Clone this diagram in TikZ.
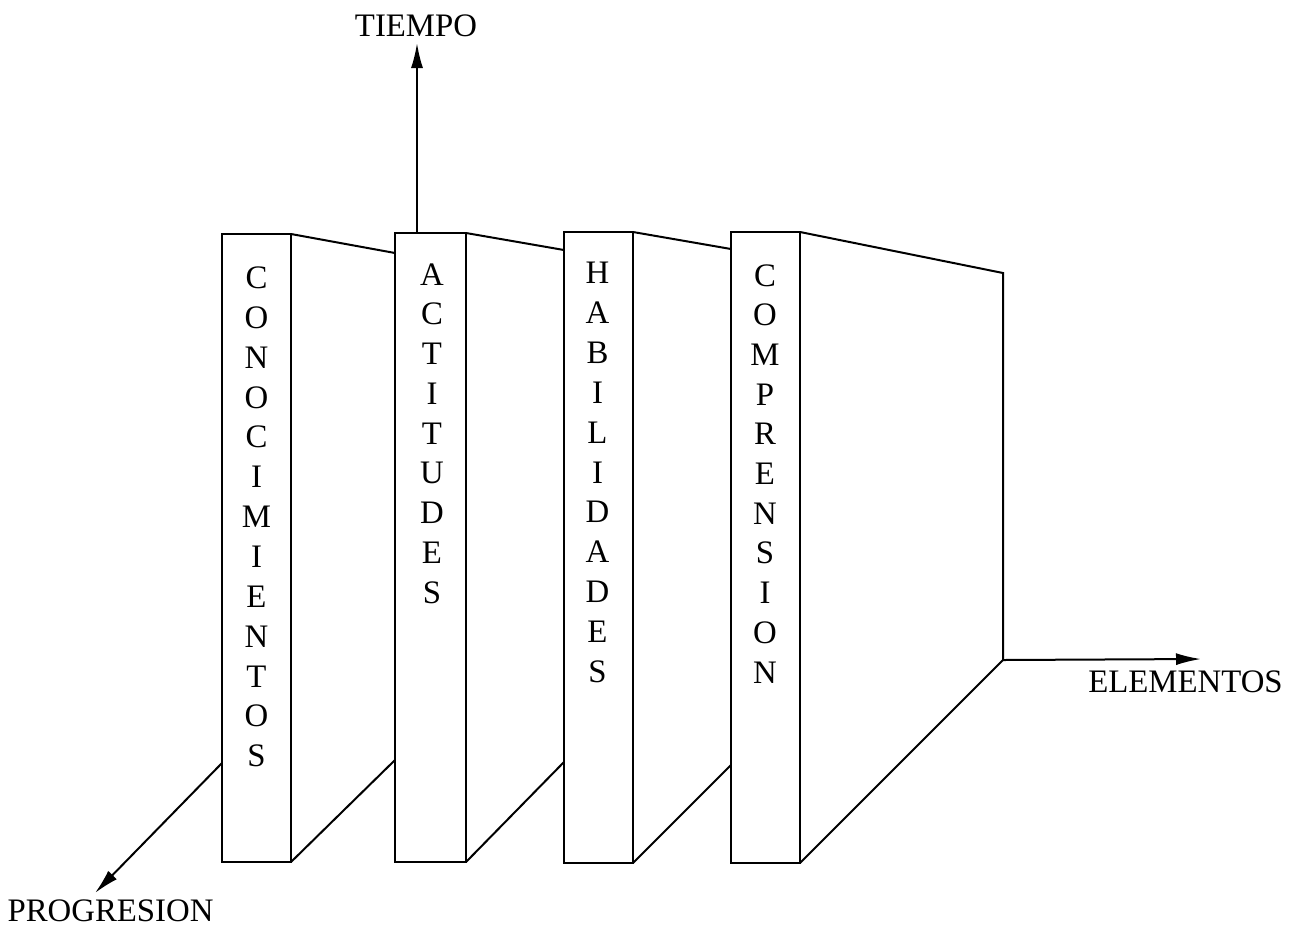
\documentclass[tikz,border=0pt]{standalone}
\usepackage{fontspec}
\setmainfont{Liberation Serif}
\usetikzlibrary{arrows.meta}
\begin{document}
\begin{tikzpicture}[x=0.5pt,y=-0.5pt,
  edge/.style={line width=1pt, line join=miter},
  axis/.style={line width=1pt, -{Latex[length=12.5pt,width=6pt]}},
  letter/.style={font=\fontsize{16.4}{19.7}\selectfont, anchor=base, inner sep=0pt},
  axislabel/.style={font=\fontsize{16.4}{19.7}\selectfont, anchor=base, inner sep=0pt}]
\useasboundingbox (0,0) rectangle (1301,928);

% front faces of the four slabs
\coordinate (a1) at (222,234); \coordinate (b1) at (291,862);
\coordinate (a2) at (395,233); \coordinate (b2) at (466,862);
\coordinate (a3) at (564,232); \coordinate (b3) at (633,863);
\coordinate (a4) at (731,232); \coordinate (b4) at (800,863);
\foreach \k in {1,2,3,4} \draw[edge] (a\k) rectangle (b\k);

% receding side faces
\coordinate (t1) at (291,234); \coordinate (u1) at (395,253); \coordinate (v1) at (395,760);
\coordinate (t2) at (466,233); \coordinate (u2) at (564,250); \coordinate (v2) at (564,762);
\coordinate (t3) at (633,232); \coordinate (u3) at (731,249); \coordinate (v3) at (731,765);
\coordinate (t4) at (800,232); \coordinate (u4) at (1003,273); \coordinate (v4) at (1003,660);
\draw[edge] (t1) -- (u1);  \draw[edge] (b1) -- (v1);
\draw[edge] (t2) -- (u2);  \draw[edge] (b2) -- (v2);
\draw[edge] (t3) -- (u3);  \draw[edge] (b3) -- (v3);
\draw[edge] (t4) -- (u4) -- (v4) -- (b4);

% axes
\coordinate (tbase) at (417,233);
\coordinate (pbase) at (222,763);
\node[axislabel] (tiempo) at (416,36) {TIEMPO};
\node[axislabel] (elementos) at (1185.5,692) {ELEMENTOS};
\node[axislabel] (progresion) at (110.5,921) {PROGRESION};
\coordinate (ttip) at (417,43);
\coordinate (etip) at (1201,659);
\coordinate (ptip) at (95,893);
\draw[axis] (tbase) -- (ttip);
\draw[axis] (v4) -- (etip);
\draw[axis] (pbase) -- (ptip);

% vertical titles on the front faces
\foreach \ch [count=\i from 0] in {C,O,N,O,C,I,M,I,E,N,T,O,S}
  \node[letter] (con\i) at (256.5,{288.5+39.85*\i}) {\ch};
\foreach \ch [count=\i from 0] in {A,C,T,I,T,U,D,E,S}
  \node[letter] (act\i) at (432,{285+39.75*\i}) {\ch};
\foreach \ch [count=\i from 0] in {H,A,B,I,L,I,D,A,D,E,S}
  \node[letter] (hab\i) at (597.5,{283.5+39.9*\i}) {\ch};
\foreach \ch [count=\i from 0] in {C,O,M,P,R,E,N,S,I,O,N}
  \node[letter] (com\i) at (765,{286+39.7*\i}) {\ch};
\end{tikzpicture}
\end{document}
